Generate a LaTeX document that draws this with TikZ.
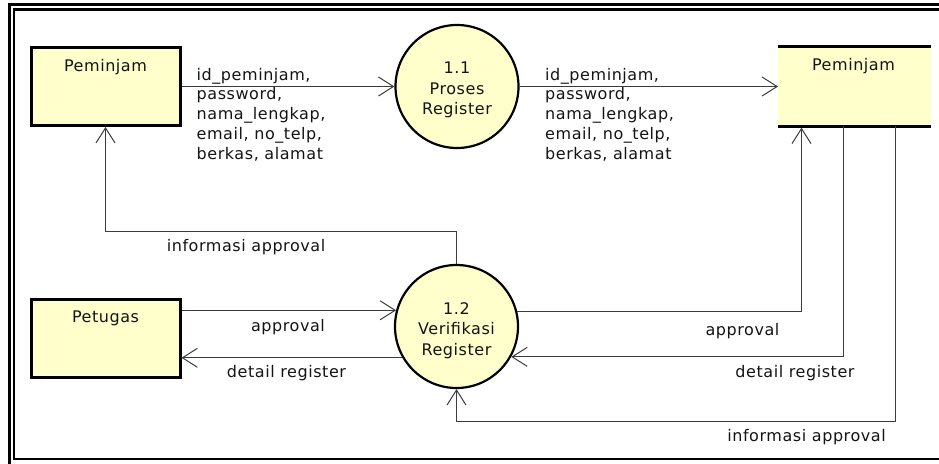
\documentclass[tikz,border=0pt]{standalone}
\usepackage{fontspec}
\setmainfont{DejaVu Sans}[LetterSpace=3.5]
\usetikzlibrary{arrows.meta,calc}
\definecolor{dfdfill}{RGB}{255,255,204}
\definecolor{dfdline}{RGB}{60,60,60}
\definecolor{dfdtext}{RGB}{20,20,20}
\begin{document}
\begin{tikzpicture}[x=1pt,y=-1pt,
  font=\fontsize{16}{19.75}\selectfont, text=dfdtext,
  entity/.style={draw=black, line width=3pt, fill=dfdfill,
    minimum width=149pt, minimum height=78pt, inner sep=0pt},
  process/.style={circle, draw=black, line width=2.2pt, fill=dfdfill,
    minimum size=123pt, inner sep=0pt},
  store/.style={fill=dfdfill, minimum width=153pt, minimum height=79.6pt,
    inner sep=0pt, outer sep=0pt},
  storeline/.style={draw=black, line width=2.7pt},
  flow/.style={draw=dfdline, line width=1pt,
    -{Straight Barb[length=15pt,width=19pt]}},
  lbl/.style={inner sep=0pt, anchor=base},
  lbll/.style={inner sep=0pt, anchor=base west},
  ptext/.style={inner sep=0pt, anchor=base, font=\fontsize{16}{20.5}\selectfont}]

\useasboundingbox (0,0) rectangle (939,463);

% double frame round the drawing
\begin{scope}
  \clip (0,0) rectangle (939,463);
  \draw[line width=2.8pt] (9.4,4.6) rectangle (950,470);
  \draw[line width=2.6pt] (13.9,9.5) rectangle (944,459);
\end{scope}

% external entities
\node[entity] (e1) at (105.5,86.5) {};
\node[lbl] (e1t) at (105.5,71) {Peminjam};
\node[entity] (e2) at (105.5,338.75) {};
\node[lbl] (e2t) at (105.5,322) {Petugas};

% processes
\node[process] (p1) at (457,86.5) {};
\node[ptext] (p1t) at (457,73.8) {\begin{tabular}[t]{@{}c@{}}1.1\\Proses\\Register\end{tabular}};
\node[process] (p2) at (456.5,326.5) {};
\node[ptext] (p2t) at (456.5,314) {\begin{tabular}[t]{@{}c@{}}1.2\\Verifikasi\\Register\end{tabular}};

% data store
\node[store] (ds) at (854.5,86.5) {};
\draw[storeline] (ds.north west) -- (ds.north east);
\draw[storeline] (ds.south west) -- (ds.south east);
\node[lbl] (dst) at (853.5,70) {Peminjam};

% bend points of the flows
\coordinate (k3) at (105.5,231);
\coordinate (k6) at (801.5,311);
\coordinate (k7) at (843,357);
\coordinate (k8) at (895,421);

% data flows
\draw[flow] (e1.east) -- (p1.west);
\draw[flow] (p1.east) -- (ds.west);
\draw[flow] (p2.north) |- (k3) -- (e1.south);
\draw[flow] (e2.east |- p2.165.4) -- (p2.165.4);
\draw[flow] (p2.-150.9) -- (e2.east |- p2.-150.9);
\draw[flow, shorten >=1.35pt] (p2.14.6) -| (ds.south -| k6);
\draw[flow] (ds.south -| k7) |- (p2.-29.1);
\draw[flow] (ds.south -| k8) -- (k8) -| (p2.south);

% flow labels
\node[lbll] (f1) at (196.5,80) {\begin{tabular}[t]{@{}l@{}}id\_peminjam,\\password,\\nama\_lengkap,\\email, no\_telp,\\berkas, alamat\end{tabular}};
\node[lbll] (f2) at (545,80) {\begin{tabular}[t]{@{}l@{}}id\_peminjam,\\password,\\nama\_lengkap,\\email, no\_telp,\\berkas, alamat\end{tabular}};
\node[lbl] (f3) at (246,251.7) {informasi approval};
\node[lbl] (f4) at (288,331.7) {approval};
\node[lbl] (f5) at (286.5,377) {detail register};
\node[lbl] (f6) at (742.5,335) {approval};
\node[lbl] (f7) at (795,377) {detail register};
\node[lbl] (f8) at (806.5,441.7) {informasi approval};
\end{tikzpicture}
\end{document}
